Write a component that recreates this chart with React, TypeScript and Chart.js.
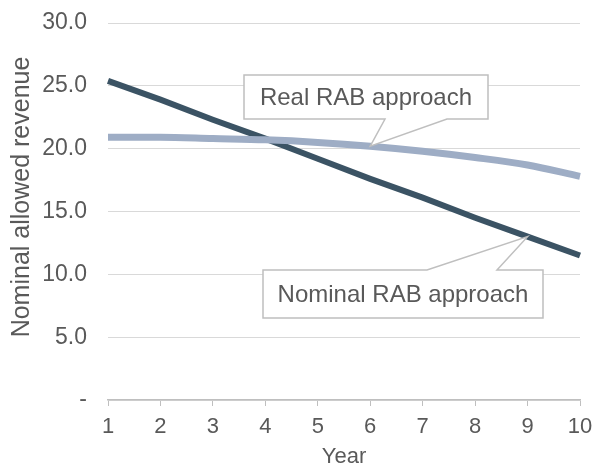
import React, { useEffect, useRef } from "react";
import { Chart, registerables } from "chart.js";

Chart.register(...registerables);

const years = ["1", "2", "3", "4", "5", "6", "7", "8", "9", "10"];
const nominalRAB = [25.4, 23.9, 22.3, 20.8, 19.2, 17.6, 16.1, 14.5, 13.0, 11.5];
const realRAB = [20.9, 20.9, 20.8, 20.7, 20.5, 20.2, 19.8, 19.3, 18.7, 17.8];
const yTicks = [0, 5, 10, 15, 20, 25, 30];
const realLabel = "Real RAB approach";
const nominalLabel = "Nominal RAB approach";
const xTitle = "Year";
const yTitle = "Nominal allowed revenue";

const FONT = "'Liberation Sans', Arial, sans-serif";
const TEXT = "#595959";

const calloutPlugin = {
  id: "callouts",
  afterDatasetsDraw(chart: any) {
    const ctx = chart.ctx;
    const xs = chart.scales.x;
    const ys = chart.scales.y;
    const draw = (
      box: { l: number; t: number; r: number; b: number },
      base: [number, number],
      side: "top" | "bottom",
      tip: { x: number; y: number },
      text: string
    ) => {
      ctx.save();
      ctx.beginPath();
      if (side === "bottom") {
        ctx.moveTo(box.l, box.t);
        ctx.lineTo(box.r, box.t);
        ctx.lineTo(box.r, box.b);
        ctx.lineTo(base[1], box.b);
        ctx.lineTo(tip.x, tip.y);
        ctx.lineTo(base[0], box.b);
        ctx.lineTo(box.l, box.b);
      } else {
        ctx.moveTo(box.l, box.t);
        ctx.lineTo(base[0], box.t);
        ctx.lineTo(tip.x, tip.y);
        ctx.lineTo(base[1], box.t);
        ctx.lineTo(box.r, box.t);
        ctx.lineTo(box.r, box.b);
        ctx.lineTo(box.l, box.b);
      }
      ctx.closePath();
      ctx.fillStyle = "#ffffff";
      ctx.fill();
      ctx.strokeStyle = "#bfbfbf";
      ctx.lineWidth = 1.5;
      ctx.stroke();
      ctx.fillStyle = TEXT;
      ctx.font = `24px ${FONT}`;
      ctx.textAlign = "center";
      ctx.textBaseline = "middle";
      ctx.fillText(text, (box.l + box.r) / 2, (box.t + box.b) / 2 + 1);
      ctx.restore();
    };
    const realTip = { x: xs.getPixelForValue(5), y: ys.getPixelForValue(realRAB[5]) };
    draw({ l: 244, t: 75, r: 488, b: 119 }, [385, 447], "bottom", realTip, realLabel);
    const nomTip = { x: xs.getPixelForValue(8), y: ys.getPixelForValue(nominalRAB[8]) };
    draw({ l: 263, t: 270, r: 543, b: 318 }, [427, 497], "top", nomTip, nominalLabel);

    // y-axis title
    ctx.save();
    ctx.translate(22, 197);
    ctx.rotate(-Math.PI / 2);
    ctx.fillStyle = TEXT;
    ctx.font = `25px ${FONT}`;
    ctx.textAlign = "center";
    ctx.textBaseline = "middle";
    ctx.fillText(yTitle, 0, 0);
    ctx.restore();
  },
};

export default function App() {
  const ref = useRef<HTMLCanvasElement>(null);
  useEffect(() => {
    document.body.style.margin = "0";
    const chart = new Chart(ref.current!, {
      type: "line",
      data: {
        labels: years,
        datasets: [
          {
            label: realLabel,
            data: realRAB,
            borderColor: "#9eadc5",
            borderWidth: 7,
            pointRadius: 0,
            tension: 0.4,
            cubicInterpolationMode: "monotone",
          },
          {
            label: nominalLabel,
            data: nominalRAB,
            borderColor: "#3b5364",
            borderWidth: 6,
            pointRadius: 0,
            tension: 0,
          },
        ],
      },
      options: {
        animation: false,
        responsive: false,
        layout: { padding: { left: 0, right: 17, top: 23, bottom: 0 } },
        plugins: { legend: { display: false }, tooltip: { enabled: false } },
        scales: {
          x: {
            offset: false,
            afterFit: (axis: any) => {
              axis.height = 68;
              axis.paddingLeft = 0;
              axis.paddingRight = 0;
            },
            grid: { drawOnChartArea: false, drawTicks: true, tickLength: 6, color: "#bfbfbf" },
            border: { color: "#bfbfbf", width: 1.5 },
            ticks: { color: TEXT, font: { family: FONT, size: 22 }, padding: 8, maxRotation: 0 },
            title: { display: true, text: xTitle, color: TEXT, font: { family: FONT, size: 22 }, padding: { top: 0, bottom: -2 } },
          },
          y: {
            min: 0,
            max: 30,
            afterFit: (axis: any) => {
              axis.width = 108;
              axis.paddingTop = 0;
              axis.paddingBottom = 0;
            },
            afterBuildTicks: (axis: any) => {
              axis.ticks = yTicks.map((v) => ({ value: v }));
            },
            grid: { drawTicks: false, color: "#d9d9d9", lineWidth: 1 },
            border: { display: false },
            ticks: {
              color: TEXT,
              font: { family: FONT, size: 23 },
              padding: 21,
              callback: (v: any) => (Number(v) === 0 ? "-" : Number(v).toFixed(1)),
            },
          },
        },
      },
      plugins: [calloutPlugin],
    });
    return () => chart.destroy();
  }, []);
  return <canvas ref={ref} width={597} height={468} style={{ display: "block" }} />;
}
